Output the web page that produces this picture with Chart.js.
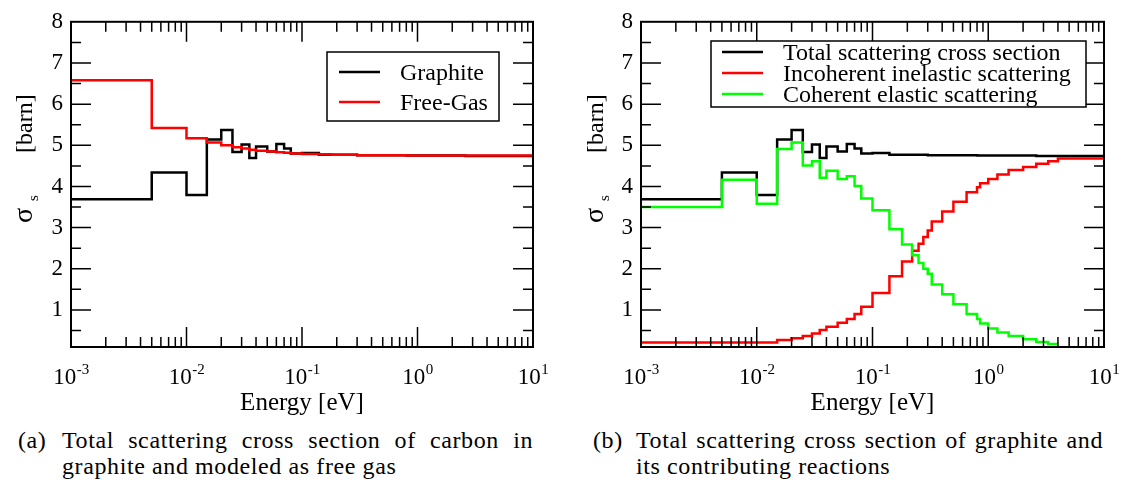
<!DOCTYPE html>
<html>
<head>
<meta charset="utf-8">
<script src="https://cdn.jsdelivr.net/npm/chart.js@4.4.1/dist/chart.umd.min.js"></script>
<style>
  html, body { margin: 0; padding: 0; background: #fff; }
  body { width: 1123px; height: 485px; position: relative; overflow: hidden; font-family: "Liberation Serif", Tinos, "Times New Roman", Times, "DejaVu Serif", serif; }
  canvas { position: absolute; top: 0; }
  #plotA { left: 0; }
  #plotB { left: 561px; }
  .cap { position: absolute; font-size: 24px; line-height: 26px; color: #000; white-space: nowrap; letter-spacing: 0.6px; }
  .just { white-space: normal; text-align: justify; text-align-last: justify; }
</style>
</head>
<body>
<canvas id="plotA" width="561" height="420"></canvas>
<canvas id="plotB" width="562" height="420"></canvas>

<div class="cap" style="left:18px; top:427px">(a)</div>
<div class="cap just" style="left:62px; top:427px; width:471px">Total scattering cross section of carbon in</div>
<div class="cap" style="left:62px; top:453px">graphite and modeled as free gas</div>

<div class="cap" style="left:593px; top:427px">(b)</div>
<div class="cap just" style="left:636px; top:427px; width:467px">Total scattering cross section of graphite and</div>
<div class="cap" style="left:636px; top:453px">its contributing reactions</div>

<script>
// Group boundaries of the energy structure [eV]
const energyEdges = [0.001, 0.005, 0.01, 0.015, 0.02, 0.025, 0.03, 0.035, 0.04, 0.05,
                     0.06, 0.07, 0.08, 0.1, 0.14, 0.18, 0.22, 0.25, 0.275, 0.3,
                     0.325, 0.4, 0.5, 0.65, 0.8, 0.85, 1.0, 1.2, 1.5, 2.0,
                     2.6, 3.3, 4.0, 10];

// Group-wise cross sections [barn], one value per energy group
const graphiteTotal = [3.69, 4.34, 3.79, 5.14, 5.37, 4.84, 5.02, 4.69, 4.97, 4.85,
                       5.03, 4.92, 4.80, 4.81, 4.77, 4.77, 4.77, 4.77, 4.77, 4.76,
                       4.76, 4.76, 4.76, 4.76, 4.75, 4.75, 4.75, 4.75, 4.75, 4.75,
                       4.74, 4.74, 4.74];
const freeGas = [6.58, 5.42, 5.17, 5.07, 5.00, 4.95, 4.92, 4.89, 4.87, 4.85,
                 4.83, 4.82, 4.80, 4.79, 4.78, 4.77, 4.77, 4.77, 4.77, 4.76,
                 4.76, 4.76, 4.76, 4.76, 4.75, 4.75, 4.75, 4.75, 4.75, 4.75,
                 4.75, 4.75, 4.75];
const incoherentInelastic = [0.21, 0.21, 0.21, 0.27, 0.31, 0.37, 0.43, 0.51, 0.59, 0.69,
                             0.78, 0.90, 1.08, 1.41, 1.82, 2.18, 2.44, 2.61, 2.77, 2.93,
                             3.15, 3.39, 3.63, 3.86, 3.98, 4.08, 4.18, 4.29, 4.40, 4.47,
                             4.55, 4.61, 4.68];
const coherentElastic = [3.50, 4.16, 3.58, 4.91, 5.07, 4.51, 4.61, 4.21, 4.38, 4.18,
                         4.25, 4.01, 3.71, 3.42, 2.96, 2.59, 2.33, 2.14, 2.00, 1.88,
                         1.62, 1.38, 1.14, 0.90, 0.78, 0.67, 0.55, 0.45, 0.37, 0.29,
                         0.22, 0.17, null];

// Axis ticks
const xDecadeExponents = [-3, -2, -1, 0, 1];
const xMinorMantissas = [2, 3, 4, 5, 6, 7, 8, 9];
const yTickValues = [0.5, 1, 1.5, 2, 2.5, 3, 3.5, 4, 4.5, 5, 5.5, 6, 6.5, 7, 7.5, 8];

const xTickValues = [];
xDecadeExponents.forEach((k, i) => {
  xTickValues.push(Math.pow(10, k));
  if (i < xDecadeExponents.length - 1) {
    xMinorMantissas.forEach(m => xTickValues.push(m * Math.pow(10, k)));
  }
});

// Turn group edges + group values into points for a step line
function histogramPoints(edges, values) {
  const pts = [];
  for (let i = 0; i < values.length; i++) {
    if (values[i] == null) continue;
    pts.push({ x: edges[i], y: values[i] });
    if (i === values.length - 1 || values[i + 1] == null) {
      pts.push({ x: edges[i + 1], y: values[i] });
      if (i < values.length - 1) pts.push({ x: edges[i + 1], y: null });
    }
  }
  return pts;
}

const SERIF = '"Liberation Serif", Tinos, "Times New Roman", Times, "DejaVu Serif", serif';

// Grace-style frame: boxed axes with inward ticks, power-of-ten labels,
// axis titles and a boxed legend
const gracePlugin = {
  id: 'graceFrame',
  afterDatasetsDraw(chart, args, opts) {
    const ctx = chart.ctx;
    const a = chart.chartArea;
    const xs = chart.scales.x;
    const ys = chart.scales.y;
    ctx.save();

    // inward ticks on all four sides
    ctx.strokeStyle = '#000';
    ctx.lineWidth = 1.5;
    ctx.beginPath();
    xs.ticks.forEach(t => {
      const px = xs.getPixelForValue(t.value);
      if (px <= a.left + 1 || px >= a.right - 1) return;
      const lg = Math.log10(t.value);
      const len = Math.abs(lg - Math.round(lg)) < 1e-9 ? 20 : 10;
      ctx.moveTo(px, a.bottom); ctx.lineTo(px, a.bottom - len);
      ctx.moveTo(px, a.top); ctx.lineTo(px, a.top + len);
    });
    ys.ticks.forEach(t => {
      const py = ys.getPixelForValue(t.value);
      if (py <= a.top + 1 || py >= a.bottom - 1) return;
      const len = Number.isInteger(t.value) ? 20 : 10;
      ctx.moveTo(a.left, py); ctx.lineTo(a.left + len, py);
      ctx.moveTo(a.right, py); ctx.lineTo(a.right - len, py);
    });
    ctx.stroke();

    // frame
    ctx.lineWidth = 2;
    ctx.strokeRect(a.left, a.top, a.right - a.left, a.bottom - a.top);

    // x tick labels 10^k
    ctx.fillStyle = '#000';
    ctx.textBaseline = 'alphabetic';
    ctx.textAlign = 'left';
    xDecadeExponents.forEach(k => {
      const px = xs.getPixelForValue(Math.pow(10, k));
      ctx.font = '23px ' + SERIF;
      const wBase = ctx.measureText('10').width;
      ctx.font = '15px ' + SERIF;
      const exp = String(k);
      const wExp = ctx.measureText(exp).width;
      const x0 = px - (wBase + wExp) / 2;
      ctx.font = '23px ' + SERIF;
      ctx.fillText('10', x0, 384);
      ctx.font = '15px ' + SERIF;
      ctx.fillText(exp, x0 + wBase + 0.5, 374);
    });

    // x title
    ctx.font = '25px ' + SERIF;
    ctx.textAlign = 'center';
    ctx.fillText('Energy [eV]', (a.left + a.right) / 2, 410);

    // y title: sigma with subscript s, rotated
    ctx.save();
    ctx.translate(opts.yTitle.x, opts.yTitle.y);
    ctx.rotate(-Math.PI / 2);
    ctx.textAlign = 'left';
    ctx.font = '28px ' + SERIF;
    ctx.fillText('\u03c3', 0, 0);
    ctx.font = '15px ' + SERIF;
    ctx.fillText('s', 22, 6);
    ctx.font = '24px ' + SERIF;
    ctx.fillText('[barn]', 70, 0);
    ctx.restore();

    // legend
    const L = opts.legend;
    ctx.fillStyle = '#fff';
    ctx.fillRect(L.box[0], L.box[1], L.box[2], L.box[3]);
    ctx.strokeStyle = '#000';
    ctx.lineWidth = 1.5;
    ctx.strokeRect(L.box[0], L.box[1], L.box[2], L.box[3]);
    ctx.font = '24px ' + SERIF;
    ctx.textAlign = 'left';
    chart.data.datasets.forEach((ds, i) => {
      const yLine = L.rows[i];
      ctx.strokeStyle = ds.borderColor;
      ctx.lineWidth = 2.5;
      ctx.beginPath();
      ctx.moveTo(L.sample[0], yLine);
      ctx.lineTo(L.sample[1], yLine);
      ctx.stroke();
      ctx.fillStyle = '#000';
      ctx.fillText(ds.label, L.textX, yLine + 8);
    });

    ctx.restore();
  }
};

function stepSeries(label, values, color, order) {
  return {
    label: label,
    data: histogramPoints(energyEdges, values),
    borderColor: color,
    backgroundColor: color,
    borderWidth: 2.5,
    stepped: 'before',
    pointRadius: 0,
    fill: false,
    spanGaps: false,
    order: order
  };
}

function makePlot(id, datasets, cfg) {
  return new Chart(document.getElementById(id), {
    type: 'line',
    data: { datasets: datasets },
    options: {
      responsive: false,
      animation: false,
      devicePixelRatio: 1,
      layout: { padding: { left: 0, right: cfg.padRight, top: 21, bottom: 0 } },
      plugins: {
        legend: { display: false },
        tooltip: { enabled: false },
        graceFrame: cfg
      },
      scales: {
        x: {
          type: 'logarithmic',
          min: 1e-3,
          max: 10,
          grid: { display: false, drawTicks: false },
          border: { display: false },
          ticks: { display: false, autoSkip: false },
          afterBuildTicks: s => { s.ticks = xTickValues.map(v => ({ value: v })); },
          afterFit: s => { s.height = 73; }
        },
        y: {
          type: 'linear',
          min: 0.1,
          max: 8,
          grid: { display: false, drawTicks: false },
          border: { display: false },
          ticks: {
            autoSkip: false,
            padding: 8,
            color: '#000',
            font: { family: SERIF, size: 23 },
            callback: v => (Number.isInteger(v) ? String(v) : '')
          },
          afterBuildTicks: s => { s.ticks = yTickValues.map(v => ({ value: v })); },
          afterFit: s => { s.width = cfg.yAxisWidth; }
        }
      }
    },
    plugins: [gracePlugin]
  });
}

function drawAll() {
  makePlot('plotA', [
    stepSeries('Graphite', graphiteTotal, '#000000', 2),
    stepSeries('Free-Gas', freeGas, '#ff0000', 1)
  ], {
    padRight: 28,
    yAxisWidth: 71,
    yTitle: { x: 32, y: 223 },
    legend: { box: [327, 52, 172, 69], sample: [339, 380], textX: 400, rows: [72, 102] }
  });

  makePlot('plotB', [
    stepSeries('Total scattering cross section', graphiteTotal, '#000000', 3),
    stepSeries('Incoherent inelastic scattering', incoherentInelastic, '#ff0000', 2),
    stepSeries('Coherent elastic scattering', coherentElastic, '#00ff00', 1)
  ], {
    padRight: 19,
    yAxisWidth: 80,
    yTitle: { x: 42, y: 223 },
    legend: { box: [150, 41, 375, 66], sample: [161, 202], textX: 222, rows: [52, 73, 94] }
  });
}

// make sure the serif face is ready before painting text on the canvases
if (document.fonts && document.fonts.load) {
  Promise.all([
    document.fonts.load('24px "Liberation Serif"'),
    document.fonts.load('24px "DejaVu Serif"')
  ]).then(drawAll, drawAll);
} else {
  drawAll();
}
</script>
</body>
</html>
